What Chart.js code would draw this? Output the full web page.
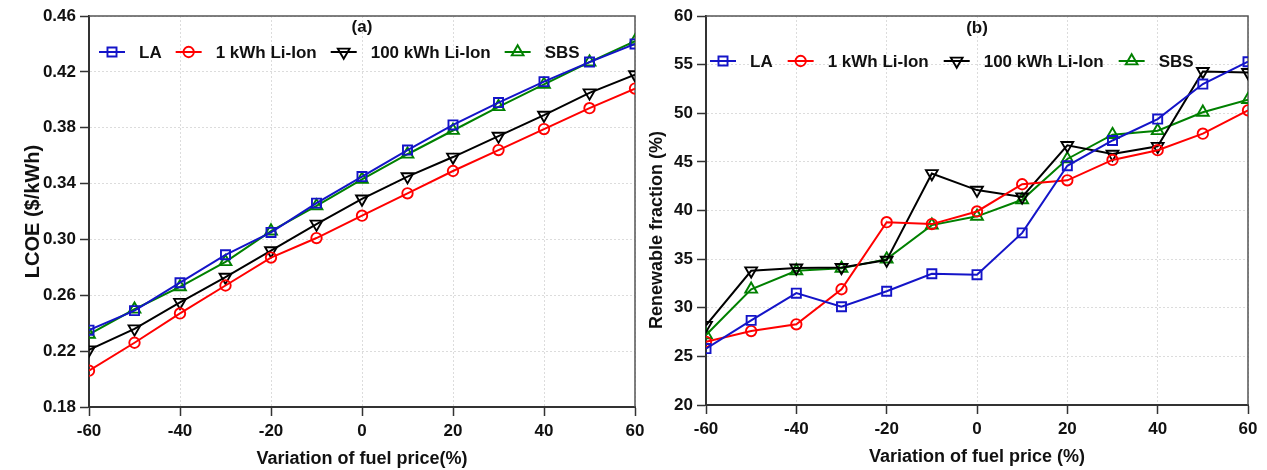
<!DOCTYPE html>
<html lang="en">
<head>
<meta charset="UTF-8">
<title>LCOE and renewable fraction vs fuel price</title>
<script src="https://cdn.jsdelivr.net/npm/chart.js"></script>
<style>
  body { margin: 0; background: #fff; }
  #wrap { position: relative; width: 1267px; height: 470px; overflow: hidden; }
  canvas { position: absolute; top: 0; }
  #chartA { left: 0; }
  #chartB { left: 640px; }
</style>
</head>
<body>
<div id="wrap">
  <canvas id="chartA" width="670" height="470"></canvas>
  <canvas id="chartB" width="627" height="470"></canvas>
</div>
<script>
// x values (variation of fuel price, %)
const fuelVariation = [-60, -50, -40, -30, -20, -10, 0, 10, 20, 30, 40, 50, 60];

// (a) LCOE ($/kWh)
const lcoeLA    = [0.235, 0.249, 0.269, 0.289, 0.305, 0.326, 0.345, 0.364, 0.382, 0.398, 0.413, 0.427, 0.440];
const lcoeLi1   = [0.206, 0.226, 0.247, 0.267, 0.287, 0.301, 0.317, 0.333, 0.349, 0.364, 0.379, 0.394, 0.408];
const lcoeLi100 = [0.221, 0.236, 0.255, 0.273, 0.292, 0.311, 0.329, 0.345, 0.359, 0.374, 0.389, 0.405, 0.418];
const lcoeSBS   = [0.232, 0.250, 0.266, 0.284, 0.306, 0.324, 0.343, 0.361, 0.378, 0.395, 0.411, 0.427, 0.442];

// (b) renewable fraction (%)
const rfLA    = [25.8, 28.7, 31.5, 30.1, 31.7, 33.5, 33.4, 37.7, 44.6, 47.2, 49.4, 53.0, 55.3];
const rfLi1   = [26.5, 27.6, 28.3, 31.9, 38.8, 38.6, 39.9, 42.7, 43.1, 45.2, 46.2, 47.9, 50.3];
const rfLi100 = [28.2, 33.8, 34.1, 34.15, 34.9, 43.8, 42.1, 41.4, 46.7, 45.8, 46.6, 54.3, 54.2];
const rfSBS   = [27.2, 31.9, 33.8, 34.05, 35.0, 38.5, 39.4, 41.1, 45.3, 47.8, 48.2, 50.1, 51.4];

const seriesNames = ['LA', '1 kWh Li-Ion', '100 kWh Li-Ion', 'SBS'];
const seriesColors = ['#1414c8', '#ff0000', '#000000', '#008000'];

const FONT = '"Liberation Sans", Arial, sans-serif';
Chart.defaults.font.family = FONT;
Chart.defaults.color = '#111';

function toPoints(vals) {
  return vals.map((v, i) => ({ x: fuelVariation[i], y: v }));
}

function makeDatasets(lists) {
  const styles = [
    { pointStyle: 'rect', pointRadius: 6.4, pointRotation: 0 },
    { pointStyle: 'circle', pointRadius: 5.2, pointRotation: 0 },
    { pointStyle: 'triangle', pointRadius: 6.8, pointRotation: 180 },
    { pointStyle: 'triangle', pointRadius: 6.8, pointRotation: 0 }
  ];
  return lists.map((vals, i) => Object.assign({
    label: seriesNames[i],
    data: toPoints(vals),
    borderColor: seriesColors[i],
    pointBorderColor: seriesColors[i],
    pointBackgroundColor: 'rgba(0,0,0,0)',
    borderWidth: 2,
    pointBorderWidth: 1.9,
    tension: 0
  }, styles[i]));
}

function drawMarker(ctx, ds, x, y) {
  const r = ds.pointRadius;
  ctx.save();
  ctx.strokeStyle = ds.borderColor;
  ctx.lineWidth = ds.pointBorderWidth;
  ctx.beginPath();
  if (ds.pointStyle === 'circle') {
    ctx.arc(x, y, r, 0, Math.PI * 2);
  } else if (ds.pointStyle === 'rect') {
    const s = r * Math.SQRT1_2;
    ctx.rect(x - s, y - s, 2 * s, 2 * s);
  } else {
    let rad = (ds.pointRotation || 0) * Math.PI / 180;
    ctx.moveTo(x + Math.sin(rad) * r, y - Math.cos(rad) * r);
    rad += 2 * Math.PI / 3;
    ctx.lineTo(x + Math.sin(rad) * r, y - Math.cos(rad) * r);
    rad += 2 * Math.PI / 3;
    ctx.lineTo(x + Math.sin(rad) * r, y - Math.cos(rad) * r);
    ctx.closePath();
  }
  ctx.stroke();
  ctx.restore();
}

// frame on top/right, panel label, in-plot legend (and optional y title)
const decorPlugin = {
  id: 'decor',
  beforeDatasetsDraw(chart) {
    const { ctx, chartArea: a } = chart;
    ctx.save();
    ctx.strokeStyle = '#555';
    ctx.lineWidth = 1.5;
    ctx.beginPath();
    ctx.moveTo(a.left, a.top);
    ctx.lineTo(a.right, a.top);
    ctx.lineTo(a.right, a.bottom);
    ctx.stroke();
    ctx.restore();
  },
  afterDatasetsDraw(chart, args, opts) {
    const { ctx } = chart;
    ctx.save();
    ctx.fillStyle = '#111';
    ctx.font = 'bold 17px ' + FONT;
    ctx.textAlign = 'center';
    ctx.textBaseline = 'middle';
    ctx.fillText(opts.label, chart.scales.x.getPixelForValue(0), opts.labelY);

    if (opts.yTitle) {
      ctx.save();
      ctx.font = 'bold ' + opts.yTitleSize + 'px ' + FONT;
      ctx.translate(opts.yTitleX, opts.yTitleY);
      ctx.rotate(-Math.PI / 2);
      ctx.fillText(opts.yTitle, 0, 0);
      ctx.restore();
    }

    ctx.font = 'bold ' + opts.fontSize + 'px ' + FONT;
    ctx.textAlign = 'left';
    let x = opts.legendX;
    const y = opts.legendY;
    chart.data.datasets.forEach(ds => {
      ctx.strokeStyle = ds.borderColor;
      ctx.lineWidth = 2;
      ctx.beginPath();
      ctx.moveTo(x, y);
      ctx.lineTo(x + opts.lineLen, y);
      ctx.stroke();
      drawMarker(ctx, ds, x + opts.lineLen / 2, y);
      x += opts.lineLen + opts.textGap;
      ctx.fillStyle = '#111';
      ctx.fillText(ds.label, x, y + 1);
      x += ctx.measureText(ds.label).width + opts.itemGap;
    });
    ctx.restore();
  }
};

function makeScales(cfg) {
  return {
    x: {
      type: 'linear',
      min: -60,
      max: 60,
      ticks: { stepSize: 20, font: { size: 17, weight: 'bold' }, color: '#111', padding: 5 },
      grid: { color: '#dcdcdc', lineWidth: 1, tickColor: '#333', tickLength: 9, tickWidth: 1.5 },
      border: { color: '#333', width: 2, dash: [2, 2] },
      title: { display: true, text: cfg.xTitle, font: { size: 18, weight: 'bold' }, color: '#111',
               padding: { top: 0, bottom: cfg.xTitlePad } },
      afterFit: s => { s.height = cfg.xHeight; }
    },
    y: {
      min: cfg.yMin,
      max: cfg.yMax,
      ticks: { stepSize: cfg.yStep, font: { size: 17, weight: 'bold' }, color: '#111', padding: 4,
               callback: cfg.yFormat },
      grid: { color: '#dcdcdc', lineWidth: 1, tickColor: '#333', tickLength: 9, tickWidth: 1.5 },
      border: { color: '#333', width: 2, dash: [2, 2] },
      title: { display: cfg.yTitle !== '', text: cfg.yTitle, font: { size: cfg.yTitleSize, weight: 'bold' }, color: '#111',
               padding: { top: cfg.yTitlePad, bottom: 0 } },
      afterFit: s => { s.width = cfg.yWidth; }
    }
  };
}

new Chart(document.getElementById('chartA'), {
  type: 'line',
  data: { datasets: makeDatasets([lcoeLA, lcoeLi1, lcoeLi100, lcoeSBS]) },
  options: {
    responsive: false,
    animation: false,
    events: [],
    layout: { padding: { top: 16, right: 35, left: 0, bottom: 0 } },
    plugins: {
      legend: { display: false },
      tooltip: { enabled: false },
      decor: { label: '(a)', labelY: 27, legendX: 99, legendY: 52, fontSize: 17, lineLen: 26, textGap: 14, itemGap: 14 }
    },
    scales: makeScales({
      xTitle: 'Variation of fuel price(%)', xTitlePad: 0, xHeight: 63,
      yTitle: 'LCOE ($/kWh)', yTitleSize: 20, yTitlePad: 21, yWidth: 89,
      yMin: 0.18, yMax: 0.46, yStep: 0.04, yFormat: v => v.toFixed(2)
    })
  },
  plugins: [decorPlugin]
});

new Chart(document.getElementById('chartB'), {
  type: 'line',
  data: { datasets: makeDatasets([rfLA, rfLi1, rfLi100, rfSBS]) },
  options: {
    responsive: false,
    animation: false,
    events: [],
    layout: { padding: { top: 16, right: 19, left: 0, bottom: 0 } },
    plugins: {
      legend: { display: false },
      tooltip: { enabled: false },
      decor: { label: '(b)', labelY: 28, legendX: 70, legendY: 61, fontSize: 17, lineLen: 26, textGap: 14, itemGap: 15,
               yTitle: 'Renewable fraction (%)', yTitleSize: 18, yTitleX: 17, yTitleY: 230 }
    },
    scales: makeScales({
      xTitle: 'Variation of fuel price (%)', xTitlePad: 2, xHeight: 65,
      yTitle: '', yTitleSize: 18, yTitlePad: 5, yWidth: 66,
      yMin: 20, yMax: 60, yStep: 5, yFormat: v => Math.round(v)
    })
  },
  plugins: [decorPlugin]
});
</script>
</body>
</html>
